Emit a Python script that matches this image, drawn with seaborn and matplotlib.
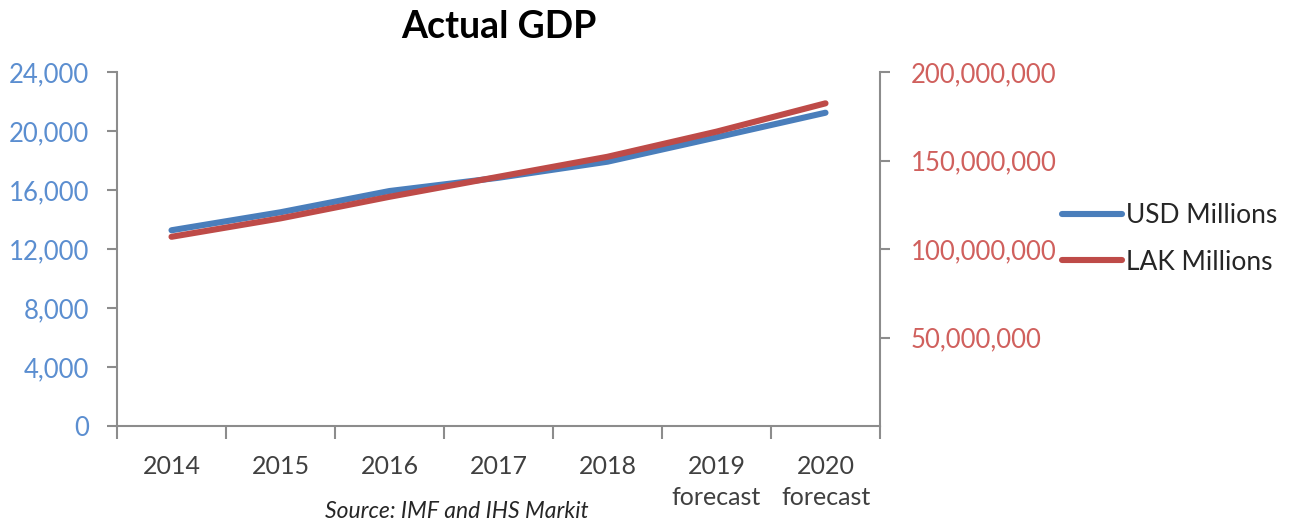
import matplotlib
matplotlib.use("Agg")
import matplotlib.pyplot as plt
from matplotlib.lines import Line2D
from matplotlib.ticker import FuncFormatter
import pandas as pd
import seaborn as sns

# Laos GDP, 2014-2020 (last two years are forecasts)
years = ["2014", "2015", "2016", "2017", "2018", "2019\nforecast", "2020\nforecast"]
usd_millions = [13270, 14490, 15930, 16830, 17920, 19570, 21240]
lak_millions = [106.9e6, 117.3e6, 129.5e6, 140.8e6, 152.1e6, 166.3e6, 182.3e6]

usd_ticks = [0, 4000, 8000, 12000, 16000, 20000, 24000]
lak_ticks = [50e6, 100e6, 150e6, 200e6]

df = pd.DataFrame({"year": years, "usd": usd_millions, "lak": lak_millions})

sns.set_theme(style="white")
plt.rcParams["font.family"] = ["Lato", "DejaVu Sans"]

BLUE = "#4A7EBB"
RED = "#BE4B48"
BLUE_TXT = "#5B8ED0"
RED_TXT = "#D0605D"
AXIS = "#8C8C8C"
TEXT = "#404040"

fig = plt.figure(figsize=(12.91, 5.23), dpi=100)
ax = fig.add_axes([117 / 1291, 97 / 523, 763 / 1291, 354 / 523])
ax2 = ax.twinx()

sns.lineplot(data=df, x="year", y="usd", ax=ax, color=BLUE, linewidth=4.4,
             sort=False, solid_capstyle="round")
sns.lineplot(data=df, x="year", y="lak", ax=ax2, color=RED, linewidth=4.4,
             sort=False, solid_capstyle="round")

n = len(years)
ax.set_xlim(-0.5, n - 0.5)
ax.set_ylim(0, 24000)
ax2.set_ylim(0, 200e6)

# category labels centred, tick marks on the category boundaries
ax.set_xticks(range(n))
ax.set_xticklabels(years, fontsize=18, color=TEXT, linespacing=1.4)
ax.set_xticks([i - 0.5 for i in range(n + 1)], minor=True)
ax.tick_params(axis="x", which="major", length=0, pad=21)
ax.tick_params(axis="x", which="minor", length=9, width=1.5, color=AXIS,
               direction="out", bottom=True)

ax.set_yticks(usd_ticks)
ax.yaxis.set_major_formatter(FuncFormatter(lambda v, p: f"{v:,.0f}"))
ax.tick_params(axis="y", length=7, width=1.5, color=AXIS, direction="out",
               labelsize=18.5, labelcolor=BLUE_TXT, pad=13, left=True)

ax2.set_yticks(lak_ticks)
ax2.yaxis.set_major_formatter(FuncFormatter(lambda v, p: f"{v:,.0f}"))
ax2.tick_params(axis="y", length=7, width=1.5, color=AXIS, direction="out",
                labelsize=18.5, labelcolor=RED_TXT, pad=15, right=True)

for a in (ax, ax2):
    a.set_xlabel("")
    a.set_ylabel("")
    a.grid(False)
    a.spines["top"].set_visible(False)
    for s in ("left", "right", "bottom"):
        a.spines[s].set_color(AXIS)
        a.spines[s].set_linewidth(1.5)
ax.spines["right"].set_visible(False)
ax2.spines["left"].set_visible(False)
ax2.spines["bottom"].set_visible(False)

fig.text(498.5 / 1291, 1 - 27 / 523, "Actual GDP", ha="center", va="center",
         fontsize=27, fontweight="bold", color="black")

handles = [Line2D([], [], color=BLUE, linewidth=4.4),
           Line2D([], [], color=RED, linewidth=4.4)]
fig.legend(handles, ["USD Millions", "LAK Millions"], loc="center left",
           bbox_to_anchor=(1038 / 1291, 1 - 239 / 523), frameon=False,
           fontsize=19, handlelength=2.3, handletextpad=0.15,
           labelspacing=0.8, labelcolor="#262626")

fig.text(457 / 1291, 1 - 511 / 523, "Source: IMF and IHS Markit", ha="center",
         va="center", fontsize=16.5, fontstyle="italic", color="#262626")

fig.savefig("out.png", dpi=100, facecolor="white")
